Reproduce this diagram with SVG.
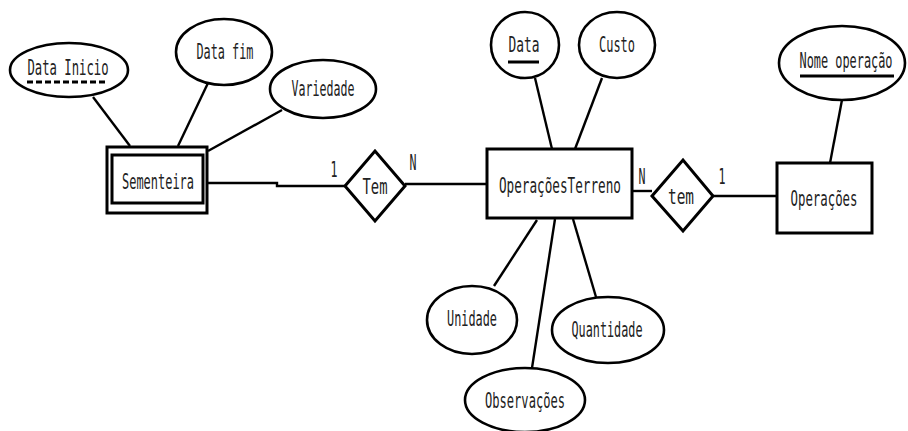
<svg xmlns="http://www.w3.org/2000/svg" width="908" height="431" viewBox="0 0 908 431">
<style>
.e{fill:#fff;stroke:#000;stroke-width:2.6}
.r{fill:#fff;stroke:#000;stroke-width:3}
.l{fill:none;stroke:#000;stroke-width:2.4}
.t{font-family:"DejaVu Sans Mono","Liberation Mono",monospace;font-size:21px;fill:#222;text-anchor:middle}
.u{stroke:#000;stroke-width:3}
</style>
<rect width="908" height="431" fill="#fff"/>
<g id="connectors">
<line class="l" x1="93" y1="97" x2="130" y2="146"/>
<line class="l" x1="208" y1="83" x2="178" y2="146"/>
<line class="l" x1="282" y1="110" x2="208" y2="151"/>
<polyline class="l" points="208,183 277,183 277,186 345,186"/>
<line class="l" x1="405" y1="184" x2="487" y2="184"/>
<line class="l" x1="535" y1="78" x2="552" y2="149"/>
<line class="l" x1="602" y1="78" x2="575" y2="149"/>
<line class="l" x1="632" y1="191" x2="652" y2="191"/>
<line class="l" x1="713" y1="196" x2="777" y2="196"/>
<line class="l" x1="842" y1="100" x2="830" y2="163"/>
<line class="l" x1="537" y1="220" x2="494" y2="286"/>
<line class="l" x1="555" y1="219" x2="532" y2="368"/>
<line class="l" x1="573" y1="219" x2="596" y2="297"/>
<text class="t" x="334" y="177" textLength="7" lengthAdjust="spacingAndGlyphs">1</text>
<text class="t" x="413" y="170" textLength="7" lengthAdjust="spacingAndGlyphs">N</text>
<text class="t" x="642" y="184" textLength="7" lengthAdjust="spacingAndGlyphs">N</text>
<text class="t" x="722" y="184" textLength="7" lengthAdjust="spacingAndGlyphs">1</text>
</g>
<g id="sementeira">
<rect class="r" x="107" y="147" width="100" height="66"/>
<rect class="r" x="112" y="155" width="91" height="48"/>
<text class="t" x="158" y="189" textLength="72" lengthAdjust="spacingAndGlyphs">Sementeira</text>
</g>
<g id="data-inicio">
<ellipse class="e" cx="69" cy="70" rx="59" ry="27"/>
<text class="t" x="68" y="75" textLength="81" lengthAdjust="spacingAndGlyphs">Data Inicio</text>
<line class="u" x1="27" y1="82" x2="108" y2="82" stroke-dasharray="6,3"/>
</g>
<g id="data-fim">
<ellipse class="e" cx="224" cy="52" rx="48" ry="33"/>
<text class="t" x="225" y="59" textLength="57" lengthAdjust="spacingAndGlyphs">Data fim</text>
</g>
<g id="variedade">
<ellipse class="e" cx="323" cy="89" rx="53" ry="29"/>
<text class="t" x="323" y="96" textLength="63" lengthAdjust="spacingAndGlyphs">Variedade</text>
</g>
<g id="tem1">
<polygon class="r" points="345,186 375,151 405,186 375,221"/>
<text class="t" x="375" y="194" textLength="25" lengthAdjust="spacingAndGlyphs">Tem</text>
</g>
<g id="operacoesterreno">
<rect class="r" x="487" y="149" width="145" height="69"/>
<text class="t" x="560" y="193" textLength="122" lengthAdjust="spacingAndGlyphs">OperaçõesTerreno</text>
</g>
<g id="data">
<ellipse class="e" cx="525" cy="45" rx="34" ry="33"/>
<text class="t" x="524" y="52" textLength="31" lengthAdjust="spacingAndGlyphs">Data</text>
<line class="u" x1="508" y1="62" x2="539" y2="62"/>
</g>
<g id="custo">
<ellipse class="e" cx="617" cy="45" rx="38" ry="33"/>
<text class="t" x="617" y="52" textLength="36" lengthAdjust="spacingAndGlyphs">Custo</text>
</g>
<g id="tem2">
<polygon class="r" points="652,196 683,160 713,196 683,231"/>
<text class="t" x="681" y="204" textLength="26" lengthAdjust="spacingAndGlyphs">tem</text>
</g>
<g id="operacoes">
<rect class="r" x="777" y="163" width="95" height="70"/>
<text class="t" x="824" y="206" textLength="67" lengthAdjust="spacingAndGlyphs">Operações</text>
</g>
<g id="nome-operacao">
<ellipse class="e" cx="842" cy="63" rx="63" ry="37"/>
<text class="t" x="846" y="68" textLength="93" lengthAdjust="spacingAndGlyphs">Nome operação</text>
<line class="u" x1="800" y1="76" x2="894" y2="76"/>
</g>
<g id="unidade">
<ellipse class="e" cx="472" cy="320" rx="45" ry="34"/>
<text class="t" x="472" y="326" textLength="50" lengthAdjust="spacingAndGlyphs">Unidade</text>
</g>
<g id="quantidade">
<ellipse class="e" cx="608" cy="330" rx="56" ry="33"/>
<text class="t" x="607" y="337" textLength="71" lengthAdjust="spacingAndGlyphs">Quantidade</text>
</g>
<g id="observacoes">
<ellipse class="e" cx="525" cy="400" rx="60" ry="32"/>
<text class="t" x="525" y="408" textLength="80" lengthAdjust="spacingAndGlyphs">Observações</text>
</g>
</svg>
